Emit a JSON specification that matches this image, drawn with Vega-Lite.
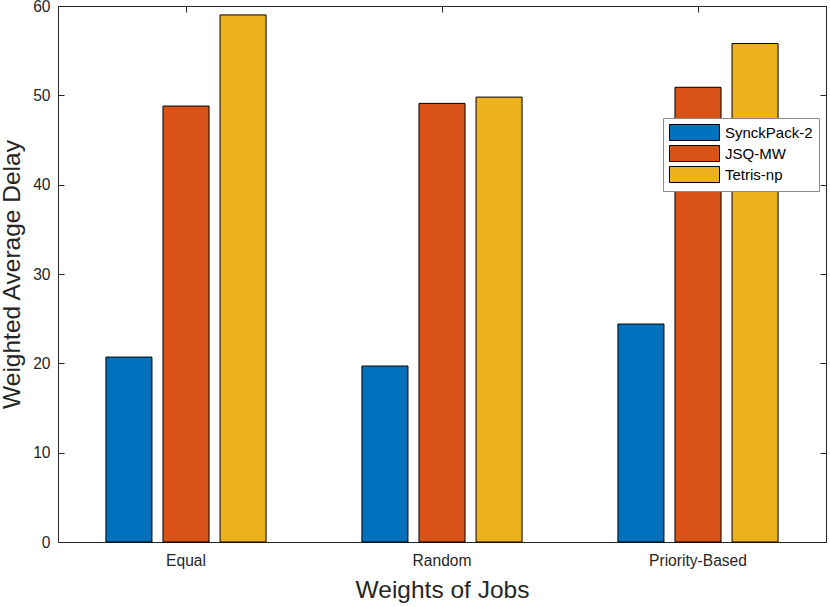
{
  "$schema": "https://vega.github.io/schema/vega-lite/v6.json",
  "width": 768,
  "height": 536,
  "autosize": {"type": "none"},
  "padding": {"left": 58, "top": 6, "right": 5, "bottom": 65},
  "config": {
    "font": "Liberation Sans",
    "view": {"stroke": "#262626", "strokeWidth": 1},
    "axis": {"domain": false, "grid": false, "labelColor": "#262626", "titleColor": "#262626", "labelFont": "Liberation Sans", "titleFont": "Liberation Sans", "titleFontWeight": "normal", "tickColor": "#262626"}
  },
  "data": {"values": [
    {"weights": "Equal", "method": "SynckPack-2", "delay": 20.7},
    {"weights": "Equal", "method": "JSQ-MW", "delay": 48.8},
    {"weights": "Equal", "method": "Tetris-np", "delay": 59.0},
    {"weights": "Random", "method": "SynckPack-2", "delay": 19.7},
    {"weights": "Random", "method": "JSQ-MW", "delay": 49.1},
    {"weights": "Random", "method": "Tetris-np", "delay": 49.8},
    {"weights": "Priority-Based", "method": "SynckPack-2", "delay": 24.4},
    {"weights": "Priority-Based", "method": "JSQ-MW", "delay": 50.9},
    {"weights": "Priority-Based", "method": "Tetris-np", "delay": 55.8}
  ]},
  "layer": [
    {
      "mark": {"type": "bar", "stroke": "#000000", "strokeWidth": 1},
      "encoding": {
        "x": {"field": "weights", "type": "nominal", "sort": ["Equal", "Random", "Priority-Based"],
          "scale": {"paddingInner": 0, "paddingOuter": 0},
          "axis": {"title": "Weights of Jobs", "titleFontSize": 24.5, "titlePadding": 10, "labelFontSize": 15.6, "labelAngle": 0, "tickSize": -6, "labelPadding": 17}},
        "xOffset": {"field": "method", "type": "nominal", "sort": ["SynckPack-2", "JSQ-MW", "Tetris-np"],
          "scale": {"paddingInner": 0.193, "paddingOuter": 0.84}},
        "y": {"field": "delay", "type": "quantitative",
          "scale": {"domain": [0, 60], "nice": false},
          "axis": {"title": "Weighted Average Delay", "titleFontSize": 24.5, "titlePadding": 8, "labelFontSize": 15.6, "values": [0, 10, 20, 30, 40, 50, 60], "tickSize": -6, "labelPadding": 14}},
        "color": {"field": "method", "type": "nominal", "sort": ["SynckPack-2", "JSQ-MW", "Tetris-np"],
          "scale": {"domain": ["SynckPack-2", "JSQ-MW", "Tetris-np"], "range": ["#0072BD", "#D95319", "#EDB120"]},
          "legend": {"title": null, "orient": "none", "legendX": 605, "legendY": 112,
            "symbolType": "M-1,-1H5.25V1H-1Z", "symbolSize": 256, "symbolStrokeColor": "#000000", "symbolStrokeWidth": 1, "symbolOpacity": 1,
            "labelFontSize": 15, "labelColor": "#000000", "labelOffset": 39, "rowPadding": 0,
            "fillColor": "#ffffff", "strokeColor": "#8c8c8c", "padding": 6}}
      }
    },
    {
      "mark": {"type": "bar", "opacity": 0},
      "encoding": {
        "x": {"field": "weights", "type": "nominal", "sort": ["Equal", "Random", "Priority-Based"],
          "axis": {"title": null, "labels": false, "orient": "top", "tickSize": -6}},
        "y": {"field": "delay", "type": "quantitative",
          "axis": {"title": null, "labels": false, "orient": "right", "values": [0, 10, 20, 30, 40, 50, 60], "tickSize": -6}}
      }
    }
  ],
  "resolve": {"axis": {"x": "independent", "y": "independent"}}
}
